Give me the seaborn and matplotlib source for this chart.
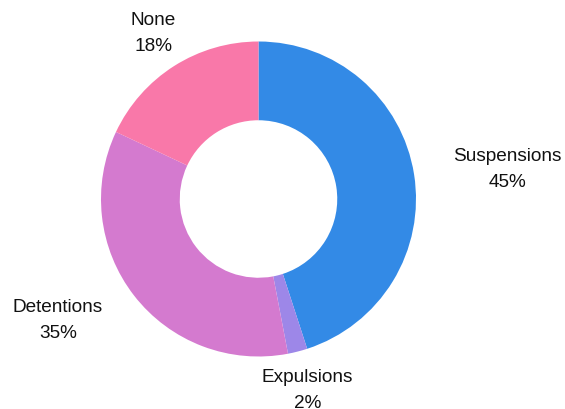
import numpy as np
import matplotlib
matplotlib.use("Agg")
import matplotlib.pyplot as plt
import seaborn as sns

# data
categories = ["Suspensions", "Expulsions", "Detentions", "None"]
shares = [45, 2, 35, 18]
colors = ["#338ae6", "#9d87e8", "#d47acf", "#f978a9"]

sns.set_style("white")
plt.rcParams["font.family"] = ["Liberation Sans", "DejaVu Sans"]

fig = plt.figure(figsize=(5.65, 4.10), dpi=100)
ax = fig.add_axes([0, 0, 1, 1])

# donut, starting at 12 o'clock, clockwise
wedges, _ = ax.pie(shares, colors=colors, startangle=90, counterclock=False,
                   radius=1.0, wedgeprops=dict(width=0.5, linewidth=0))

for w, name, val in zip(wedges, categories, shares):
    ang = np.deg2rad((w.theta1 + w.theta2) / 2)
    x, y = 1.25 * np.cos(ang), 1.25 * np.sin(ang)
    if abs(np.cos(ang)) < 0.6:
        ha = "center"
    else:
        ha = "left" if x > 0 else "right"
    ax.text(x, y, f"{name}\n{val}%", ha=ha, va="center", multialignment="center",
            fontsize=13.7, color="#111111", linespacing=1.68)

ax.set_xlim(-258.5 / 157.5, (565 - 258.5) / 157.5)
ax.set_ylim(-210 / 157.5, 200 / 157.5)
ax.set_aspect("auto")
ax.axis("off")

fig.savefig("out.png", dpi=100)
